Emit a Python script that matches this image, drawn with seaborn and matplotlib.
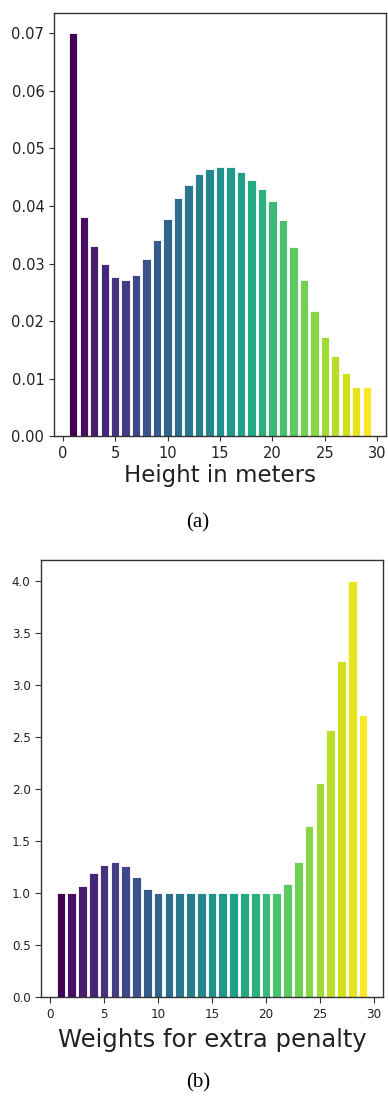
import numpy as np
import pandas as pd
import matplotlib
matplotlib.use("Agg")
import matplotlib.pyplot as plt
import seaborn as sns

# ---- data ----
bins = list(range(1, 30))
height_density = [0.0700, 0.0380, 0.0331, 0.0300, 0.0277, 0.0272, 0.0280, 0.0307,
                  0.0340, 0.0378, 0.0413, 0.0437, 0.0456, 0.0464, 0.0467, 0.0467,
                  0.0459, 0.0445, 0.0429, 0.0408, 0.0375, 0.0329, 0.0272, 0.0218,
                  0.0172, 0.0139, 0.0110, 0.0085, 0.0085]
penalty_weights = [1.00, 1.00, 1.07, 1.19, 1.27, 1.30, 1.26, 1.16, 1.04, 1.00,
                   1.00, 1.00, 1.00, 1.00, 1.00, 1.00, 1.00, 1.00, 1.00, 1.00,
                   1.00, 1.085, 1.30, 1.645, 2.06, 2.57, 3.23, 4.00, 2.71]
x_ticks = [0, 5, 10, 15, 20, 25, 30]
top_yticks = [0.00, 0.01, 0.02, 0.03, 0.04, 0.05, 0.06, 0.07]
bot_yticks = [0.0, 0.5, 1.0, 1.5, 2.0, 2.5, 3.0, 3.5, 4.0]
top_xlabel = "Height in meters"
bot_xlabel = "Weights for extra penalty"
captions = ["(a)", "(b)"]

colors = [matplotlib.colors.to_hex(c) for c in plt.cm.viridis(np.linspace(0, 1, len(bins)))]

df_a = pd.DataFrame({"bin": bins, "val": height_density})
df_b = pd.DataFrame({"bin": bins, "val": penalty_weights})

fig = plt.figure(figsize=(3.88, 11.02), dpi=100)
fig.patch.set_facecolor("white")

ax1 = fig.add_axes([54/388, 1-436.3/1102, (386-54)/388, (436.3-13)/1102])
ax2 = fig.add_axes([41/388, 1-997.3/1102, (383-41)/388, (997.3-560)/1102])

for ax, df in ((ax1, df_a), (ax2, df_b)):
    sns.barplot(data=df, x="bin", y="val", hue="bin", palette=colors,
                native_scale=True, width=0.8, legend=False, ax=ax,
                saturation=1, edgecolor="white", linewidth=0.6, errorbar=None)
    ax.set_xlim(-0.84, 30.84)
    ax.set_xticks(x_ticks)
    ax.set_ylabel("")
    for s in ax.spines.values():
        s.set_color("#333333")
        s.set_linewidth(1.0)
    ax.tick_params(direction="out", length=3.5, width=0.8, color="#333333")

ax1.set_ylim(0, 0.0735)
ax1.set_yticks(top_yticks)
ax1.set_yticklabels([f"{v:.2f}" for v in top_yticks])
ax1.set_xticklabels([str(v) for v in x_ticks])
ax1.tick_params(labelsize=10.5, labelcolor="#222222")
ax1.set_xlabel(top_xlabel, fontsize=16.5, color="#222222", labelpad=2)

ax2.set_ylim(0, 4.2)
ax2.set_yticks(bot_yticks)
ax2.set_yticklabels([f"{v:.1f}" for v in bot_yticks], fontstretch="condensed")
ax2.set_xticklabels([str(v) for v in x_ticks], fontstretch="condensed")
ax2.tick_params(labelsize=9.5, labelcolor="#222222", length=4)
ax2.set_xlabel(bot_xlabel, fontsize=17.5, color="#222222", labelpad=5)

fig.text(0.51, 1-523/1102, captions[0], ha="center", va="center",
         family="Liberation Serif", fontsize=15)
fig.text(0.51, 1-1083/1102, captions[1], ha="center", va="center",
         family="Liberation Serif", fontsize=15)

fig.savefig("out.png", dpi=100, facecolor="white")
